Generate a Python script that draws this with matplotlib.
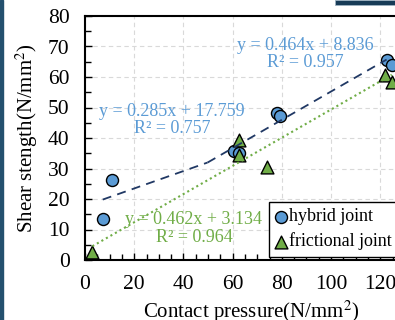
import numpy as np
import matplotlib.pyplot as plt
from matplotlib.patches import Rectangle

plt.rcParams['font.family'] = ['Liberation Serif', 'DejaVu Serif']
plt.rcParams['mathtext.fontset'] = 'stix'

# hybrid joint points
hyb_x = [7.2, 11.1, 60.5, 62.5, 77.9, 79.3, 122.6, 124.7]
hyb_y = [13.3, 26.2, 35.8, 35.0, 48.3, 47.2, 65.6, 63.9]

# frictional joint points
fri_x = [3.0, 62.7, 62.7, 73.8, 122.0, 124.7]
fri_y = [2.5, 39.5, 34.5, 30.6, 60.7, 58.5]

# trend lines: slope, intercept, x from, x to
hyb_fit1 = (0.285, 17.759, 7.2, 49.8)
hyb_fit2 = (0.464, 8.836, 49.8, 122.6)
fri_fit = (0.462, 3.134, 3.0, 124.7)

blue = '#5B9BD5'
green = '#70AD47'
navy = '#203864'

fig = plt.figure(figsize=(3.95, 3.2), dpi=100)
ax = fig.add_axes([85 / 395, 60 / 320, 344.4 / 395, 244 / 320])

ax.grid(True, which='major', color='#D9D9D9', linestyle=(0, (4, 3)), linewidth=0.8, zorder=0)
ax.set_axisbelow(True)

for m, b, x0, x1 in [hyb_fit1, hyb_fit2]:
    xs = np.array([x0, x1])
    ax.plot(xs, m * xs + b, color=navy, linestyle=(0, (5, 3.5)), linewidth=1.3, zorder=4)
m, b, x0, x1 = fri_fit
xs = np.array([x0, x1])
ax.plot(xs, m * xs + b, color=green, linestyle=(0, (1, 1.5)), linewidth=1.5, zorder=4)

ax.scatter(hyb_x, hyb_y, s=75, marker='o', facecolor=blue, edgecolor='black',
           linewidth=1.0, zorder=3, label='hybrid joint')
ax.scatter(fri_x, fri_y, s=85, marker='^', facecolor=green, edgecolor='black',
           linewidth=1.0, zorder=3, label='frictional joint')

ax.text(89.4, 67.5, 'y = 0.464x + 8.836\nR² = 0.957', color=blue, fontsize=13,
        ha='center', va='center', linespacing=1.05)
ax.text(35.4, 45.9, 'y = 0.285x + 17.759\nR² = 0.757', color=blue, fontsize=13,
        ha='center', va='center', linespacing=1.05)
ax.text(44.3, 10.3, 'y = 0.462x + 3.134\nR² = 0.964', color=green, fontsize=13,
        ha='center', va='center', linespacing=1.05)

ax.set_xlim(0, 140)
ax.set_ylim(0, 80)
ax.set_xticks(np.arange(0, 141, 20))
ax.set_yticks(np.arange(0, 81, 10))
ax.set_xticks(np.arange(0, 141, 5), minor=True)
ax.set_yticks(np.arange(0, 81, 5), minor=True)
ax.tick_params(which='both', direction='in', top=False, right=False, width=1.0)
ax.tick_params(which='major', length=5, labelsize=15.5, pad=11)
ax.tick_params(which='minor', length=4)
for s in ax.spines.values():
    s.set_linewidth(1.5)

ax.set_xlabel('Contact pressure(N/mm$^{\\mathrm{2}}$)', fontsize=15)
ax.set_ylabel('Shear stength(N/mm$^{\\mathrm{2}}$)', fontsize=15)
ax.xaxis.set_label_coords(0.482, -0.16)
ax.yaxis.set_label_coords(-0.132, 0.5)

leg = ax.legend(loc='lower left', bbox_to_anchor=(0.534, 0.0135), fontsize=13,
                frameon=True, fancybox=False, edgecolor='black', framealpha=1,
                handlelength=0.6, handletextpad=0.15, borderpad=0.35,
                labelspacing=0.4, borderaxespad=0)
leg.get_frame().set_linewidth(1.0)

# screenshot edges
fig.patches.append(Rectangle((0, 0), 2.5 / 395, 1, transform=fig.transFigure,
                             color='#24506E', zorder=10))
fig.patches.append(Rectangle((335 / 395, 1 - 5 / 320), 60 / 395, 5 / 320,
                             transform=fig.transFigure, facecolor='#173B57',
                             edgecolor='#9FB3C3', linewidth=0.6, zorder=10))

fig.savefig('out.png', dpi=100)
